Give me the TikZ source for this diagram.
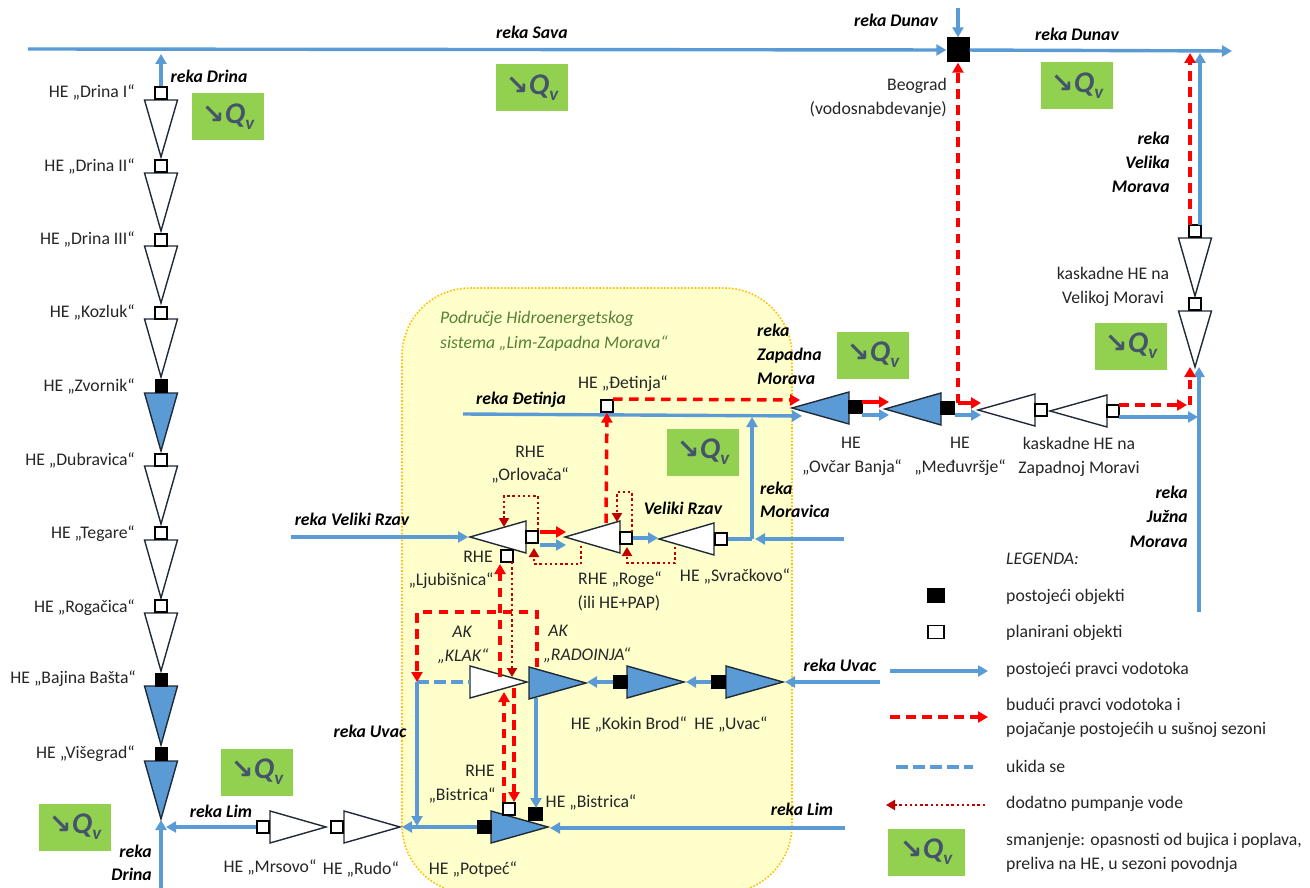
\documentclass[tikz,border=0pt]{standalone}
\usepackage{fontspec}
\setmainfont{Carlito}
\newfontfamily\dvfont{DejaVu Sans}
\usetikzlibrary{arrows.meta}
\definecolor{rivblue}{HTML}{5B9BD5}
\definecolor{flowred}{HTML}{FF0000}
\definecolor{pumpred}{HTML}{C00000}
\definecolor{boxgreen}{HTML}{92D050}
\definecolor{qslate}{HTML}{44546A}
\definecolor{zoneyellow}{HTML}{FFFFCC}
\definecolor{zoneedge}{HTML}{FFC000}
\definecolor{txtgray}{HTML}{262626}
\definecolor{tridark}{HTML}{1F2A36}
\definecolor{zonegreen}{HTML}{548235}
\newcommand{\lblsize}{\fontsize{17.7}{20}\selectfont}
\tikzset{
  lbl/.style={font=\lblsize,text=txtgray,inner sep=0pt,text height=12pt,text depth=4pt,yshift=-2.5pt},
  rlbl/.style={lbl,font=\lblsize\bfseries\itshape,text=black},
  ilbl/.style={lbl,font=\lblsize\itshape},
  zlbl/.style={lbl,font=\lblsize\itshape,text=zonegreen},
  sqw/.style={draw=black,line width=1.4pt,fill=white,inner sep=0pt,minimum width=12pt,minimum height=12pt},
  sqb/.style={draw=black,line width=0.4pt,fill=black,inner sep=0pt,minimum width=14pt,minimum height=13pt},
  tri/.style={draw=tridark,line width=1.4pt,line join=miter},
  bl/.style={draw=rivblue,line width=3.4pt,-{Triangle[length=10pt,width=11pt]}},
  bld/.style={draw=rivblue,line width=3.4pt,dash pattern=on 12pt off 5pt},
  rd/.style={draw=flowred,line width=3.5pt,-{Triangle[length=10pt,width=11pt]}},
  rdd/.style={rd,dash pattern=on 9.5pt off 6.5pt},
  pu/.style={draw=pumpred,line width=2.4pt,dash pattern=on 2.4pt off 2.8pt,-{Triangle[length=9pt,width=10pt]}},
  gbox/.style={fill=boxgreen,draw=none,inner sep=0pt,minimum width=72pt,minimum height=47pt,text=qslate,font=\fontsize{30}{32}\selectfont}
}
\newcommand{\htri}[5]{% name, tipx, basex, yc, fill
  \coordinate (#1-tip) at (#2,#4);
  \coordinate (#1-base) at (#3,#4);
  \draw[tri,fill=#5] (#1-tip) -- (#3,#4-16) -- (#3,#4+16) -- cycle;}
\newcommand{\vtri}[5]{% name, x, top, tip, fill
  \coordinate (#1-tip) at (#2,#4);
  \coordinate (#1-base) at (#2,#3);
  \draw[tri,fill=#5] (#1-tip) -- (#2-16.5,#3) -- (#2+16.5,#3) -- cycle;}
\newcommand{\qtext}{{\dvfont\bfseries\fontsize{27}{30}\selectfont ↘}\kern0.5pt{\bfseries\itshape Q\raisebox{-6pt}{\fontsize{19}{19}\selectfont v}}}
\newcommand{\qv}[3]{\node[gbox] (#1) at (#2,#3) {\qtext};}
\newcommand{\Cc}[3]{\coordinate (#1) at (#2,#3);}
\begin{document}
\begin{tikzpicture}[x=1pt,y=-1pt]
\useasboundingbox (0,0) rectangle (1310,888);
\fill[white] (0,0) rectangle (1310,888);
% zone
\begin{scope}
\clip (0,0) rectangle (1310,888);
\draw[fill=zoneyellow,draw=zoneedge,line width=1.6pt,dash pattern=on 1.6pt off 1.8pt,rounded corners=68pt] (402,288) rectangle (792,893);
\end{scope}
% green boxes
\qv{q1}{532}{88}
\qv{q2}{228}{117}
\qv{q3}{1077}{86}
\qv{q4}{873}{355}
\qv{q5}{1131}{346}
\qv{q6}{703}{452}
\qv{q7}{257}{772}
\qv{q8}{75}{827}
\node[gbox,minimum width=77pt] (q9) at (926,852) {\qtext};
% Drina cascade
\vtri{d1}{161}{100}{157}{white}
\vtri{d2}{161}{173}{231}{white}
\vtri{d3}{161}{246}{303}{white}
\vtri{d4}{161}{319}{377}{white}
\vtri{d5}{161}{393}{451}{rivblue}
\vtri{d6}{161}{466}{524}{white}
\vtri{d7}{161}{540}{598}{white}
\vtri{d8}{161}{613}{671}{white}
\vtri{d9}{161}{686}{745}{rivblue}
\vtri{d10}{161}{761}{819}{rivblue}
\node[sqw] (s1) at (161,93) {};
\node[sqw] (s2) at (161,166) {};
\node[sqw] (s3) at (161,240) {};
\node[sqw] (s4) at (161,313) {};
\node[sqb,minimum width=12pt] (s5) at (161,386) {};
\node[sqw] (s6) at (161,460) {};
\node[sqw] (s7) at (161,533) {};
\node[sqw] (s8) at (161,606) {};
\node[sqb,minimum width=12pt] (s9) at (161,680) {};
\node[sqb,minimum width=12pt] (s10) at (161,754) {};
% Lim chain
\htri{mr}{326}{270}{827}{white}
\htri{ru}{400}{344}{827}{white}
\node[sqw] (smr) at (263,827) {};
\node[sqw] (sru) at (337,827) {};
\htri{po}{548}{491}{827}{rivblue}
\node[sqb] (spo) at (484,827) {};
\node[sqw] (sbi) at (509,809) {};
\node[sqb] (sbb) at (535,814) {};
% Uvac chain
\htri{kl}{527}{470}{682}{white}
\htri{ra}{586}{529}{683}{rivblue}
\htri{ko}{684}{627}{682}{rivblue}
\node[sqb] (sko) at (620,682) {};
\htri{uv}{783}{726}{682}{rivblue}
\node[sqb] (suv) at (718,682) {};
% Rzav chain
\htri{or}{470}{526}{537}{white}
\htri{ro}{565}{620}{537}{white}
\htri{sv}{659}{714}{539}{white}
\node[sqw] (sor) at (532,537) {};
\node[sqw] (sro) at (626,538) {};
\node[sqw] (ssv) at (721,539) {};
\node[sqw] (slj) at (507,556) {};
\node[sqw] (sde) at (607,406) {};
% Morava chain
\htri{ov}{792}{849}{408}{rivblue}
\node[sqb] (sov) at (855,407) {};
\htri{me}{885}{941}{409}{rivblue}
\node[sqb] (sme) at (947,408) {};
\htri{k1}{978}{1035}{410}{white}
\node[sqw] (sk1) at (1041,410) {};
\htri{k2}{1050}{1107}{411}{white}
\node[sqw] (sk2) at (1113,411) {};
% Velika Morava
\vtri{v1}{1195}{238}{296}{white}
\node[sqw] (sv1) at (1195,231) {};
\vtri{v2}{1195}{311}{367}{white}
\node[sqw] (sv2) at (1195,304) {};
% Beograd
\node[fill=black,inner sep=0pt,minimum width=23pt,minimum height=25pt] (bg) at (958,50) {};
% legend symbols
\node[sqb,minimum width=17pt,minimum height=14pt] (lgb) at (936,595) {};
\node[sqw,minimum width=16pt,minimum height=13pt] (lgw) at (936,632) {};
% free ends and junctions
\Cc{sava0}{28}{49}
\Cc{dun0}{958}{8}
\Cc{dun1}{1232}{51}
\Cc{drtop}{161}{54}
\Cc{drbot}{161}{888}
\Cc{drin}{161}{820}
\Cc{limin}{166}{827}
\Cc{uvj}{417}{682}
\Cc{uvb}{417}{826}
\Cc{limu}{402}{827}
\Cc{limr}{845}{828}
\Cc{limt}{550}{828}
\Cc{uvr}{880}{682}
\Cc{uvt}{785}{682}
\Cc{kopo}{587}{682}
\Cc{uvko}{686}{682}
\Cc{rada}{536}{698}
\Cc{radb}{536}{808}
\Cc{rz0}{291}{537}
\Cc{rz1}{468}{537}
\Cc{brs}{540}{545}
\Cc{bre}{566}{545}
\Cc{rrs}{540}{532}
\Cc{rre}{566}{532}
\Cc{rob}{658}{538}
\Cc{svj}{752}{539}
\Cc{svt}{752}{417}
\Cc{mor0}{844}{539}
\Cc{morj}{755}{539}
\Cc{det0}{463}{414}
\Cc{det1}{802}{416}
\Cc{ovb1}{862}{415}
\Cc{ovb2}{889}{415}
\Cc{ovr1}{862}{402}
\Cc{ovr2}{889}{402}
\Cc{meb1}{955}{415}
\Cc{meb2}{981}{415}
\Cc{mer0}{958}{403}
\Cc{mer2}{981}{403}
\Cc{k2b1}{1119}{417}
\Cc{k2b2}{1198}{417}
\Cc{k2r1}{1119}{405}
\Cc{k2r2}{1187}{405}
\Cc{k2r4}{1190}{405}
\Cc{k2r3}{1190}{367}
\Cc{jm0}{1199}{612}
\Cc{jm1}{1199}{367}
\Cc{vb1}{1200}{225}
\Cc{vb2}{1200}{53}
\Cc{vr1}{1190}{225}
\Cc{vr2}{1190}{53}
\Cc{bgr}{958}{403}
\Cc{der1}{606}{523}
\Cc{derh}{613}{399}
\Cc{derh2}{800}{400}
\Cc{kl0}{500}{677}
\Cc{rup}{537}{667}
\Cc{rtr}{537}{612}
\Cc{rtl}{417}{612}
\Cc{rtb}{417}{682}
\Cc{klt}{470}{682}
\Cc{biu0}{504}{802}
\Cc{biu1}{504}{692}
\Cc{bid0}{514}{688}
\Cc{bid1}{514}{802}
\Cc{pl0}{512}{562}
\Cc{pl1}{512}{677}
\Cc{lj1}{500}{564}
% blue
\draw[bl] (sava0) -- (bg);
\draw[bl] (dun0) -- (bg);
\draw[bl] (bg) -- (dun1);
\draw[bl] (s1) -- (drtop);
\draw[bl] (drbot) -- (drin);
\draw[bl] (smr) -- (limin);
\draw[bl] (uvj) -- (uvb);
\draw[bl] (spo) -- (limu);
\draw[bl] (limr) -- (limt);
\draw[bl] (uvr) -- (uvt);
\draw[bl] (sko) -- (kopo);
\draw[bl] (suv) -- (uvko);
\draw[bl] (rada) -- (radb);
\draw[bl] (rz0) -- (rz1);
\draw[bl] (brs) -- (bre);
\draw[bl] (sro) -- (rob);
\draw[bl,-] (ssv) -- (svj);
\draw[bl] (svj) -- (svt);
\draw[bl] (mor0) -- (morj);
\draw[bl] (det0) -- (det1);
\draw[bl] (ovb1) -- (ovb2);
\draw[bl] (meb1) -- (meb2);
\draw[bl] (k2b1) -- (k2b2);
\draw[bl] (jm0) -- (jm1);
\draw[bl] (vb1) -- (vb2);
\draw[bld] (uvj) -- (klt);
% red
\draw[rd] (rrs) -- (rre);
\draw[rd] (ovr1) -- (ovr2);
\draw[rd] (mer0) -- (mer2);
\draw[rdd] (bgr) -- (bg);
\draw[rdd] (der1) -- (sde);
\draw[rdd] (derh) -- (derh2);
\draw[rdd] (k2r1) -- (k2r2);
\draw[rdd] (k2r4) -- (k2r3);
\draw[rdd] (vr1) -- (vr2);
\draw[rdd] (kl0) -- (lj1);
\draw[rdd] (rup) -- (rtr) -- (rtl) -- (rtb);
\draw[rdd] (biu0) -- (biu1);
\draw[rdd] (bid0) -- (bid1);
% pumping
\Cc{p1a}{538}{530}\Cc{p1b}{538}{496}\Cc{p1c}{504}{496}\Cc{p1d}{504}{527}
\Cc{p2a}{632}{532}\Cc{p2b}{632}{492}\Cc{p2c}{617}{492}\Cc{p2d}{617}{522}
\Cc{p3a}{581}{546}\Cc{p3b}{581}{564}\Cc{p3c}{534}{564}\Cc{p3d}{534}{548}
\Cc{p4a}{675}{547}\Cc{p4b}{675}{563}\Cc{p4c}{627}{563}\Cc{p4d}{627}{547}
\draw[pu] (p1a) -- (p1b) -- (p1c) -- (p1d);
\draw[pu] (p2a) -- (p2b) -- (p2c) -- (p2d);
\draw[pu] (p3a) -- (p3b) -- (p3c) -- (p3d);
\draw[pu] (p4a) -- (p4b) -- (p4c) -- (p4d);
\draw[pu] (pl0) -- (pl1);
% legend lines
\Cc{la0}{890}{671}\Cc{la1}{988}{671}
\Cc{lb0}{890}{717}\Cc{lb1}{988}{717}
\Cc{lc0}{896}{767}\Cc{lc1}{973}{767}
\Cc{ld0}{985}{805}\Cc{ld1}{886}{805}
\draw[bl] (la0) -- (la1);
\draw[rdd] (lb0) -- (lb1);
\draw[bld] (lc0) -- (lc1);
\draw[pu] (ld0) -- (ld1);
% labels: rivers
\node[rlbl] (t1) at (532,32) {reka Sava};
\node[rlbl] (t2) at (896,20) {reka Dunav};
\node[rlbl] (t3) at (1077,34) {reka Dunav};
\node[rlbl] (t4) at (209,76) {reka Drina};
\node[rlbl,anchor=east] (t5) at (1170,138) {reka};
\node[rlbl,anchor=east] (t6) at (1170,162) {Velika};
\node[rlbl,anchor=east] (t7) at (1170,186) {Morava};
\node[rlbl,anchor=west] (t8) at (757,330) {reka};
\node[rlbl,anchor=west] (t9) at (757,354) {Zapadna};
\node[rlbl,anchor=west] (t10) at (757,378) {Morava};
\node[rlbl] (t11) at (521,398) {reka Đetinja};
\node[rlbl] (t12) at (683,508) {Veliki Rzav};
\node[rlbl,anchor=west] (t13) at (760,488) {reka};
\node[rlbl,anchor=west] (t14) at (760,511) {Moravica};
\node[rlbl] (t15) at (352,519) {reka Veliki Rzav};
\node[rlbl,anchor=east] (t16) at (1188,492) {reka};
\node[rlbl,anchor=east] (t17) at (1188,516) {Južna};
\node[rlbl,anchor=east] (t18) at (1188,541) {Morava};
\node[rlbl] (t19) at (840,665) {reka Uvac};
\node[rlbl] (t20) at (370,731) {reka Uvac};
\node[rlbl] (t21) at (221,811) {reka Lim};
\node[rlbl] (t22) at (802,809) {reka Lim};
\node[rlbl,anchor=east] (t23) at (152,851) {reka};
\node[rlbl,anchor=east] (t24) at (152,874) {Drina};
% zone title
\node[zlbl,anchor=west] (z1) at (440,317) {Područje Hidroenergetskog};
\node[zlbl,anchor=west] (z2) at (440,342) {sistema „Lim-Zapadna Morava“};
% plant labels
\node[lbl,anchor=east] (h1) at (135,91) {HE „Drina I“};
\node[lbl,anchor=east] (h2) at (135,165) {HE „Drina II“};
\node[lbl,anchor=east] (h3) at (135,238) {HE „Drina III“};
\node[lbl,anchor=east] (h4) at (135,311) {HE „Kozluk“};
\node[lbl,anchor=east] (h5) at (135,385) {HE „Zvornik“};
\node[lbl,anchor=east] (h6) at (135,459) {HE „Dubravica“};
\node[lbl,anchor=east] (h7) at (135,532) {HE „Tegare“};
\node[lbl,anchor=east] (h8) at (135,606) {HE „Rogačica“};
\node[lbl,anchor=east] (h9) at (136,677) {HE „Bajina Bašta“};
\node[lbl,anchor=east] (h10) at (135,752) {HE „Višegrad“};
\node[lbl,anchor=east] (b1) at (947,84) {Beograd};
\node[lbl,anchor=east] (b2) at (947,108) {(vodosnabdevanje)};
\node[lbl] (c1) at (1113,273) {kaskadne HE na};
\node[lbl] (c2) at (1113,297) {Velikoj Moravi};
\node[lbl] (c3) at (623,382) {HE „Đetinja“};
\node[lbl] (c4) at (530,451) {RHE};
\node[lbl] (c5) at (530,474) {„Orlovača“};
\node[lbl] (c6) at (478,556) {RHE};
\node[lbl] (c7) at (451,579) {„Ljubišnica“};
\node[lbl] (c8) at (620,578) {RHE „Roge“};
\node[lbl] (c9) at (619,602) {(ili HE+PAP)};
\node[lbl] (c10) at (735,575) {HE „Svračkovo“};
\node[ilbl] (c11) at (462,631) {AK};
\node[ilbl] (c12) at (463,655) {„KLAK“};
\node[ilbl] (c13) at (558,630) {AK};
\node[ilbl] (c14) at (587,654) {„RADOINJA“};
\node[lbl] (c15) at (629,723) {HE „Kokin Brod“};
\node[lbl] (c16) at (731,723) {HE „Uvac“};
\node[lbl] (c17) at (480,770) {RHE};
\node[lbl] (c18) at (462,794) {„Bistrica“};
\node[lbl] (c19) at (591,801) {HE „Bistrica“};
\node[lbl] (c20) at (473,868) {HE „Potpeć“};
\node[lbl] (c21) at (270,866) {HE „Mrsovo“};
\node[lbl] (c22) at (361,868) {HE „Rudo“};
\node[lbl] (c23) at (851,442) {HE};
\node[lbl] (c24) at (852,466) {„Ovčar Banja“};
\node[lbl] (c25) at (960,442) {HE};
\node[lbl] (c26) at (960,466) {„Međuvršje“};
\node[lbl] (c27) at (1079,443) {kaskadne HE na};
\node[lbl] (c28) at (1079,467) {Zapadnoj Moravi};
% legend text
\node[ilbl,anchor=west] (g0) at (1006,558) {LEGENDA:};
\node[lbl,anchor=west] (g1) at (1006,595) {postojeći objekti};
\node[lbl,anchor=west] (g2) at (1006,631) {planirani objekti};
\node[lbl,anchor=west] (g3) at (1006,668) {postojeći pravci vodotoka};
\node[lbl,anchor=west] (g4) at (1006,704) {budući pravci vodotoka i};
\node[lbl,anchor=west] (g5) at (1006,728) {pojačanje postojećih u sušnoj sezoni};
\node[lbl,anchor=west] (g6) at (1006,766) {ukida se};
\node[lbl,anchor=west] (g7) at (1006,802) {dodatno pumpanje vode};
\node[lbl,anchor=west] (g8) at (1006,839) {smanjenje: opasnosti od bujica i poplava,};
\node[lbl,anchor=west] (g9) at (1006,863) {preliva na HE, u sezoni povodnja};
\end{tikzpicture}
\end{document}
